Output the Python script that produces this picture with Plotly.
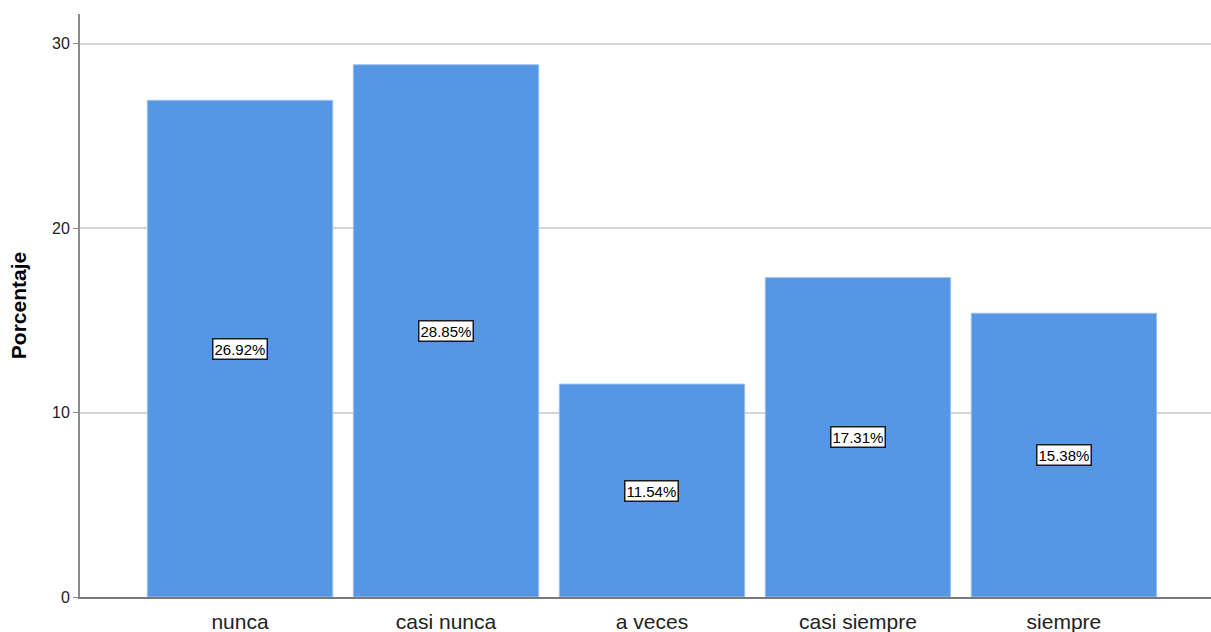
import plotly.graph_objects as go

categories = ["nunca", "casi nunca", "a veces", "casi siempre", "siempre"]
percentages = [26.92, 28.85, 11.54, 17.31, 15.38]
y_ticks = [0, 10, 20, 30]

bar_color = "#5596E5"

fig = go.Figure()
fig.add_trace(go.Bar(
    x=list(range(len(categories))),
    y=percentages,
    marker=dict(color=bar_color, line=dict(color="#9cc0ee", width=1)),
    hoverinfo="skip",
))

# value boxes centred half-way up each bar
for i, v in enumerate(percentages):
    fig.add_annotation(
        x=i, y=v / 2, text=f"{v:.2f}%", showarrow=False,
        font=dict(family="Liberation Sans, Arial", size=15, color="#000000"),
        bgcolor="#ffffff", bordercolor="#1a1a1a", borderwidth=1.5, borderpad=1,
    )

fig.update_layout(
    width=1211, height=632,
    margin=dict(l=80, r=0, t=14, b=35),
    paper_bgcolor="#ffffff", plot_bgcolor="#ffffff",
    bargap=0.1, showlegend=False,
    font=dict(family="Liberation Sans, Arial", color="#222222"),
)
fig.update_xaxes(
    range=[-0.777, 4.714],
    tickmode="array", tickvals=list(range(len(categories))), ticktext=categories,
    tickfont=dict(size=21, color="#222222"),
    showline=True, linecolor="#7a7a7a", linewidth=1.5,
    showgrid=False, zeroline=False, ticks="outside", ticklen=5,
    tickcolor="rgba(0,0,0,0)",
)
fig.update_yaxes(
    range=[0, 31.6],
    tickmode="array", tickvals=y_ticks,
    tickfont=dict(size=16, color="#222222"),
    showline=True, linecolor="#8a8a8a", linewidth=2,
    showgrid=True, gridcolor="#d4d4d4", gridwidth=2,
    zeroline=False, ticks="outside", ticklen=5, tickcolor="#8a8a8a",
    title=dict(text="<b>Porcentaje</b>", font=dict(size=21, color="#000000"), standoff=20),
)

fig.write_html("out.html")
